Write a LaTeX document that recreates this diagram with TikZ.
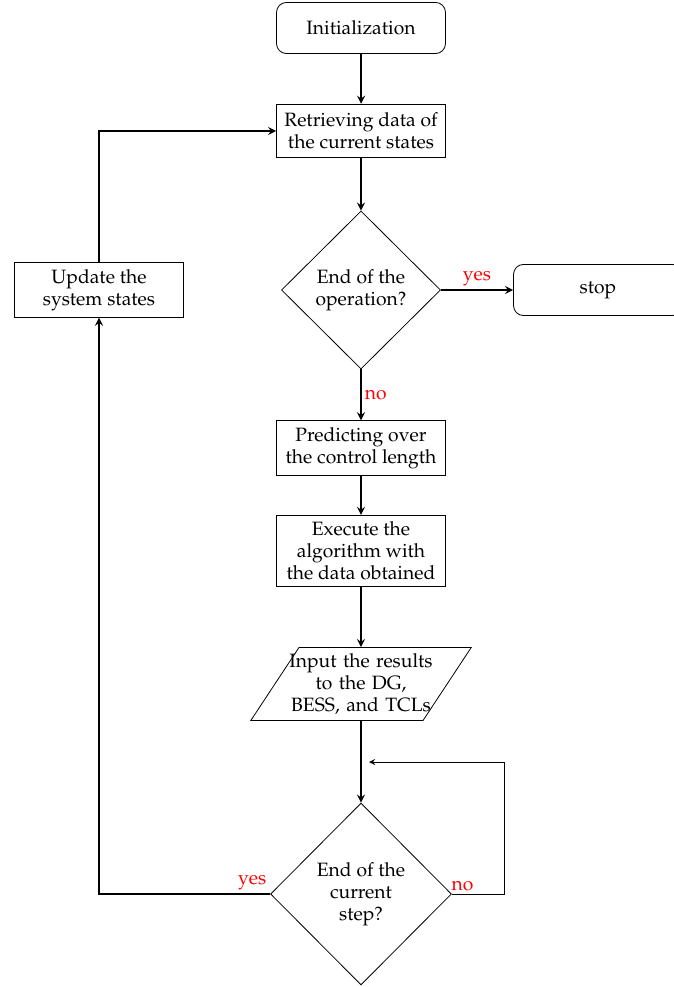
\documentclass[tikz,border=0pt]{standalone}
\usepackage[T1]{fontenc}
\usepackage{mathpazo}
\usepackage{tikz}
\usetikzlibrary{positioning, shapes.geometric, arrows}

\begin{document}
\begin{tikzpicture}[
  x=0.503pt, y=-0.503pt,
  >=stealth,
  every node/.style={
    align=center,
    font=\fontsize{9.7}{11}\selectfont,
  },
  process/.style={
    draw, thin,
    minimum width=85pt,
    minimum height=27pt,
    inner xsep=3pt,
  },
  terminal/.style={
    process,
    rounded corners=5pt,
    minimum height=25.7pt,
  },
  decision/.style={
    draw, thin,
    diamond,
    inner sep=0pt,
  },
  io/.style={
    draw, thin,
    trapezium,
    trapezium left angle=55,
    trapezium right angle=125,
    trapezium stretches=true,
    text width=74pt,
    inner xsep=-5.8pt,
    inner ysep=2pt,
    minimum height=36.7pt,
  },
  flow/.style={->, thick},
  answer/.style={text=red, inner sep=1.5pt},
]
  \useasboundingbox (0,0) rectangle (673,987);

  % main column
  \node[terminal] (init) at (361,28) {Initialization};
  \node[process] (ret) at (361,131) {Retrieving data of\\the current states};
  \node[decision, minimum width=80pt, minimum height=79.5pt] (endop) at (361,290)
    {End of the\\operation?};
  \node[terminal] (stop) at (598,290) {stop};
  \node[process] (pred) at (361,448) {Predicting over\\the control length};
  \node[process, minimum height=34.7pt] (exec) at (361,551)
    {Execute the\\algorithm with\\the data obtained};
  \node[io] (inp) at (361,684) {Input the results\\to the DG,\\BESS, and TCLs};
  \node[decision, minimum width=91pt, minimum height=91.5pt] (endstep) at (361,894)
    {End of the\\current\\step?};

  % side column
  \node[process] (upd) at (99,290) {Update the\\system states};

  \coordinate (loopend) at (369,762);

  \draw[flow] (init) -- (ret);
  \draw[flow] (ret) -- (endop);
  \draw[flow] (endop) -- node[above, answer] {yes} (stop);
  \draw[flow] (endop) -- node[right, answer] {no} (pred);
  \draw[flow] (pred) -- (exec);
  \draw[flow] (exec) -- (inp);
  \draw[flow] (inp) -- (endstep);
  \draw[->, thin] (endstep.east) -- ++(53,0) node[pos=0.2, above, answer] {no}
    |- (loopend);
  \draw[flow] (endstep.west) node[above left, answer] {yes} -| (upd.south);
  \draw[flow] (upd.north) |- (ret.west);
\end{tikzpicture}
\end{document}
